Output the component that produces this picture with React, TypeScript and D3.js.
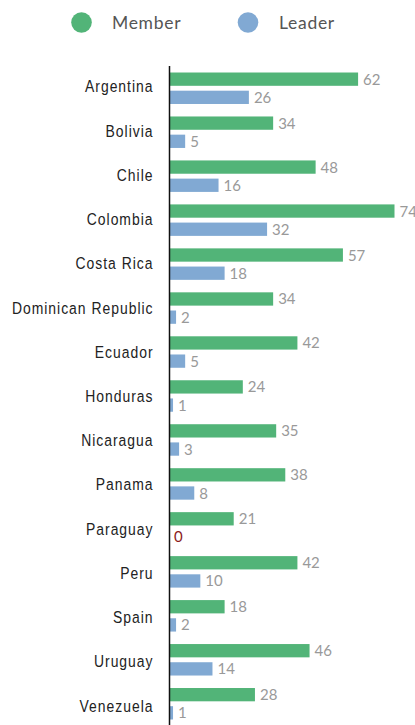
import React from "react";
import * as d3 from "d3";

const countries = ["Argentina", "Bolivia", "Chile", "Colombia", "Costa Rica", "Dominican Republic", "Ecuador", "Honduras", "Nicaragua", "Panama", "Paraguay", "Peru", "Spain", "Uruguay", "Venezuela"];
const member = [62, 34, 48, 74, 57, 34, 42, 24, 35, 38, 21, 42, 18, 46, 28];
const leader = [26, 5, 16, 32, 18, 2, 5, 1, 3, 8, 0, 10, 2, 14, 1];
const seriesNames = ["Member", "Leader"];
const colors = ["#52b478", "#81a9d3"];

export default function App() {
  const W = 415, H = 725;
  const step = 44.0;
  const top = 66;
  const y = d3.scaleBand<string>().domain(countries).range([top, top + step * countries.length]).paddingInner(0.284).paddingOuter(0.148);
  const inner = d3.scaleBand<string>().domain(seriesNames).range([0, y.bandwidth()]).paddingInner(0.269);
  // category labels sit on a slightly looser pitch than the bars
  const yLabel = d3.scalePoint<string>().domain(countries).range([92.3, 92.3 + 44.24 * (countries.length - 1)]);
  const x = d3.scaleLinear().domain([0, 74]).range([170, 394.5]);
  const series = [member, leader];

  return (
    <svg width={W} height={H} style={{ position: "absolute", left: 0, top: 0, background: "#fff" }}>
      {seriesNames.map((s, i) => (
        <g key={s}>
          <circle cx={i === 0 ? 81.5 : 248} cy={22.5} r={10.3} fill={colors[i]} />
          <text x={i === 0 ? 112 : 279} y={28.5} fontFamily="Lato, 'Open Sans', sans-serif" fontSize={17.5} fill="#555" letterSpacing={0.7}>{s}</text>
        </g>
      ))}
      {countries.map((c, ci) => (
        <g key={c}>
          <g transform={`translate(153.5,${yLabel(c)}) scale(0.82,1)`}>
            <text x={0} y={0} textAnchor="end" fontFamily="'Liberation Sans', Arial, sans-serif" fontSize={17} letterSpacing={1.2} fill="#222">{c}</text>
          </g>
          {series.map((vals, si) => {
            const yy = (y(c) as number) + (inner(seriesNames[si]) as number);
            const v = vals[ci];
            return (
              <g key={si}>
                <rect x={x(0)} y={yy} width={x(v) - x(0)} height={inner.bandwidth()} fill={colors[si]} />
                <text x={x(v) + (v === 0 ? 4 : 5)} y={yy + inner.bandwidth() / 2 + 5.5} fontFamily="Lato, 'Open Sans', sans-serif" fontSize={15} fill={v === 0 ? "#8b1a1a" : "#999"}>{v}</text>
              </g>
            );
          })}
        </g>
      ))}
      <line x1={169.5} x2={169.5} y1={66} y2={H} stroke="#111" strokeWidth={1.5} />
    </svg>
  );
}
